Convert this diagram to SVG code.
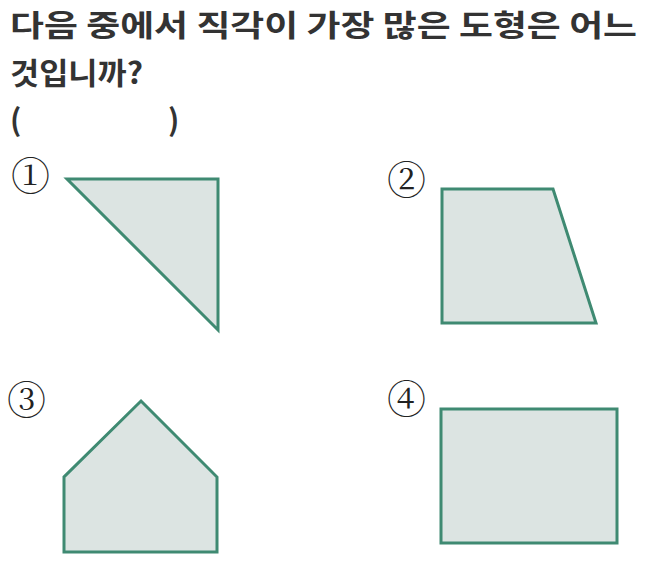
<svg xmlns="http://www.w3.org/2000/svg" width="657" height="585" viewBox="0 0 657 585">
<style>
.t{font-family:"Noto Sans CJK KR","Noto Sans",sans-serif;font-weight:bold;font-size:30px;fill:#333}
.n{font-family:"DejaVu Serif","Noto Serif CJK KR","Noto Sans CJK KR",serif;font-size:39px;fill:#222}
.s{fill:#dce4e2;stroke:#3f8a72;stroke-width:3;stroke-linejoin:miter}
</style>
<rect width="657" height="585" fill="#fff"/>
<text class="t" x="10" y="36" textLength="627" lengthAdjust="spacingAndGlyphs">다음 중에서 직각이 가장 많은 도형은 어느</text>
<text class="t" x="10" y="84" textLength="133" lengthAdjust="spacingAndGlyphs">것입니까?</text>
<text class="t" x="10" y="131">(</text>
<text class="t" x="168" y="131">)</text>
<g id="shape1">
<text class="n" x="11" y="190">①</text>
<polygon class="s" points="67,179 218,179 218,330"/>
</g>
<g id="shape2">
<text class="n" x="387" y="194">②</text>
<polygon class="s" points="442,189 553,189 596,323 442,323"/>
</g>
<g id="shape3">
<text class="n" x="7" y="414">③</text>
<polygon class="s" points="141,401 217,477 217,552 64,552 64,477"/>
</g>
<g id="shape4">
<text class="n" x="387" y="413">④</text>
<rect class="s" x="441" y="409" width="176" height="134"/>
</g>
</svg>
